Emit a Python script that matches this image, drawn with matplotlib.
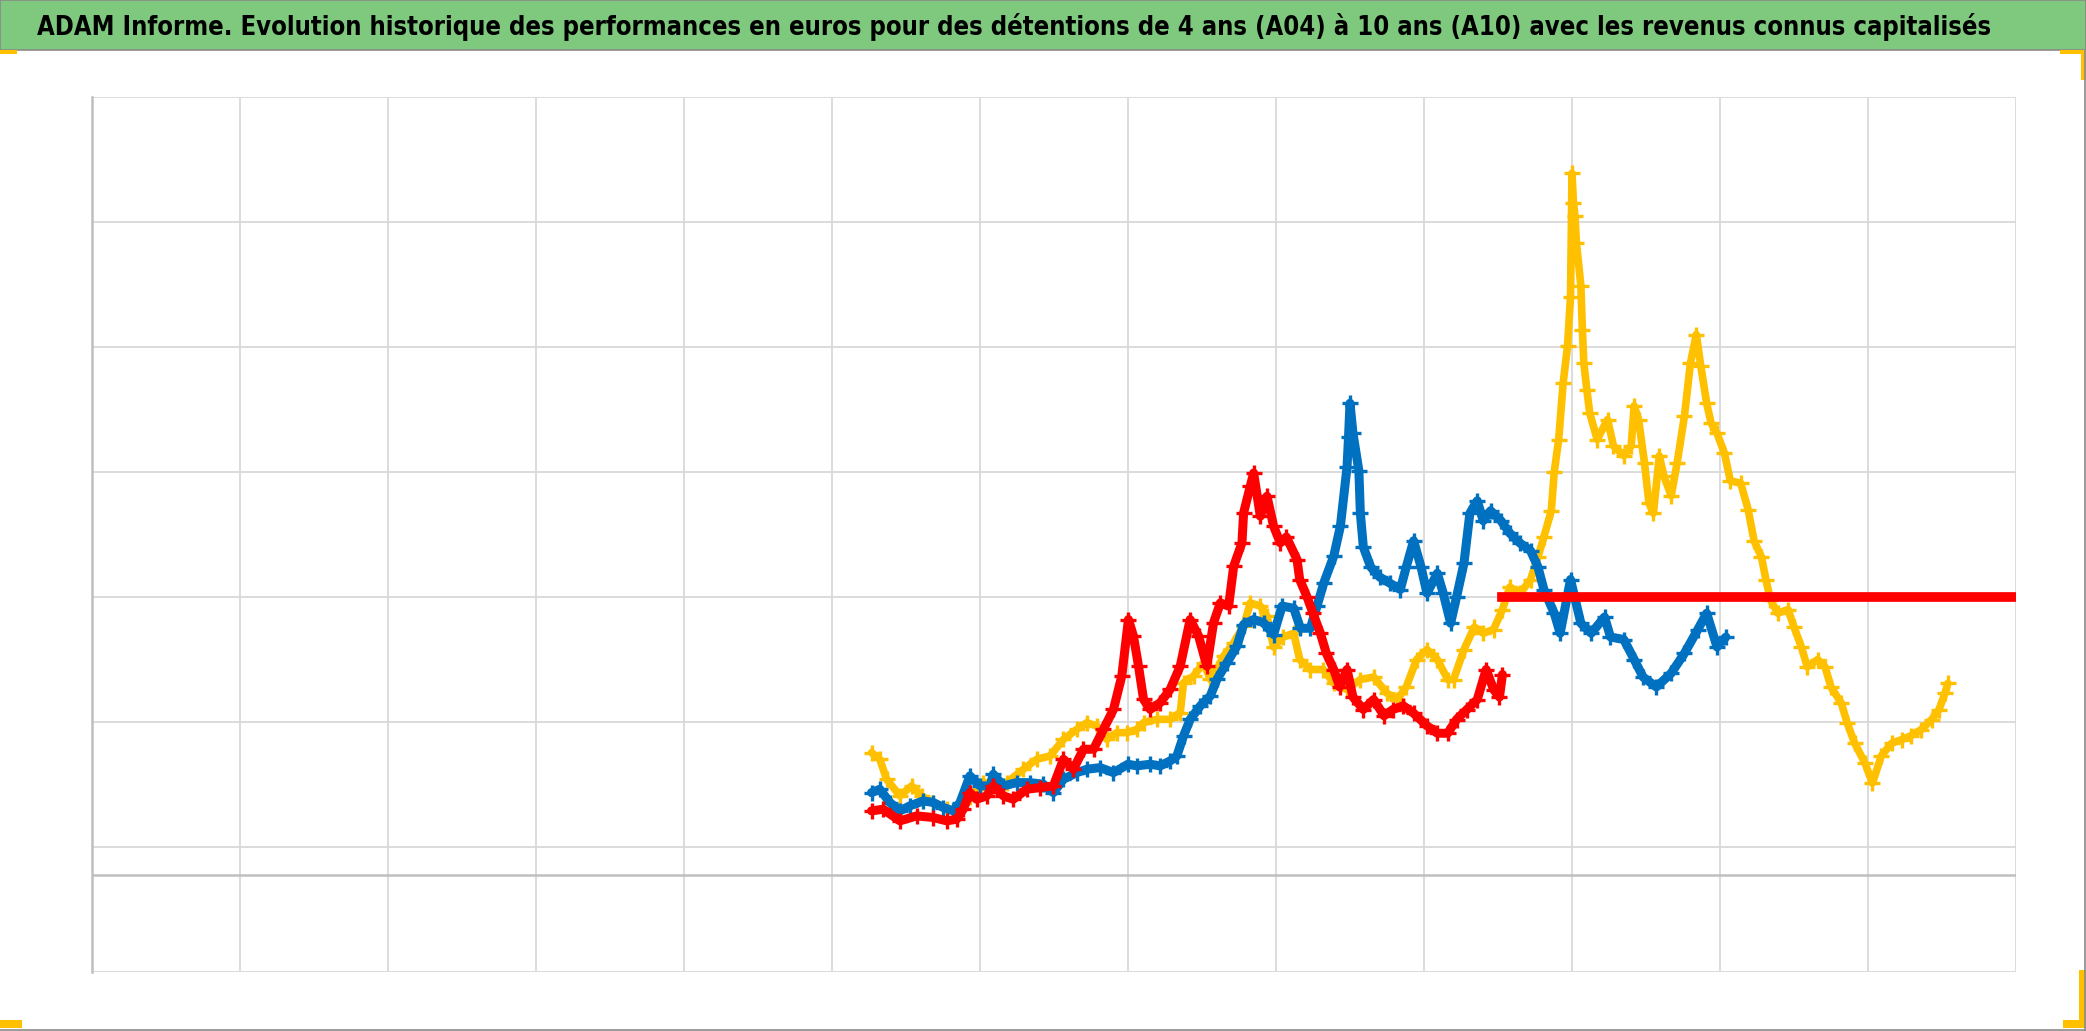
import numpy as np
import matplotlib
matplotlib.use("Agg")
import matplotlib.pyplot as plt
from matplotlib import font_manager
from matplotlib.patches import Rectangle
from matplotlib.lines import Line2D

# Data (x: date axis in grid steps, y: performance in grid steps)
title = ("ADAM Informe. Evolution historique des performances en euros pour des détentions "
         "de 4 ans (A04) à 10 ans (A10) avec les revenus connus capitalisés")

yellow_x = [5.267, 5.323, 5.369, 5.459, 5.538, 5.605, 5.684, 5.775, 5.842, 5.93,
            6.023, 6.180, 6.293, 6.383, 6.473, 6.564, 6.654, 6.722, 6.789, 6.857,
            6.924, 6.992, 7.060, 7.105, 7.195, 7.285, 7.353, 7.375, 7.443, 7.511,
            7.556, 7.601, 7.646, 7.714, 7.781, 7.826, 7.894, 7.939, 7.984, 8.05,
            8.12, 8.16, 8.23, 8.32, 8.39, 8.48, 8.57, 8.66, 8.75, 8.82,
            8.88, 8.95, 9.02, 9.09, 9.16, 9.20, 9.27, 9.34, 9.40, 9.47,
            9.53, 9.58, 9.65, 9.72, 9.77, 9.81, 9.86, 9.88, 9.91, 9.94,
            9.97, 9.99, 10.00, 10.01, 10.02, 10.03, 10.06, 10.07, 10.08, 10.10,
            10.12, 10.17, 10.24, 10.28, 10.35, 10.40, 10.42, 10.45, 10.49, 10.52,
            10.55, 10.59, 10.62, 10.67, 10.71, 10.76, 10.80, 10.84, 10.87, 10.91,
            10.94, 10.98, 11.03, 11.07, 11.14, 11.19, 11.23, 11.28, 11.31, 11.34,
            11.39, 11.46, 11.50, 11.55, 11.59, 11.66, 11.71, 11.75, 11.82, 11.86,
            11.91, 11.98, 12.03, 12.09, 12.16, 12.23, 12.29, 12.36, 12.43, 12.48,
            12.52, 12.54]
yellow_y = [1.755, 1.702, 1.542, 1.409, 1.489, 1.409, 1.356, 1.302, 1.289, 1.40,
            1.515, 1.515, 1.622, 1.702, 1.728, 1.861, 1.941, 1.995, 1.968, 1.861,
            1.915, 1.915, 1.941, 1.995, 2.021, 2.021, 2.075, 2.314, 2.368, 2.474,
            2.341, 2.421, 2.527, 2.634, 2.767, 2.953, 2.927, 2.847, 2.60, 2.68,
            2.71, 2.50, 2.42, 2.42, 2.31, 2.26, 2.34, 2.36, 2.23, 2.18,
            2.28, 2.50, 2.58, 2.50, 2.34, 2.34, 2.58, 2.76, 2.71, 2.74,
            2.90, 3.08, 3.03, 3.14, 3.32, 3.48, 3.69, 4.00, 4.26, 4.71,
            5.01, 5.40, 6.39, 6.15, 6.05, 5.83, 5.49, 5.14, 4.87, 4.66,
            4.47, 4.26, 4.42, 4.21, 4.13, 4.21, 4.53, 4.42, 4.07, 3.75,
            3.67, 4.13, 3.97, 3.81, 4.07, 4.45, 4.87, 5.10, 4.85, 4.55,
            4.39, 4.31, 4.15, 3.93, 3.91, 3.70, 3.45, 3.32, 3.14, 2.98,
            2.87, 2.90, 2.76, 2.60, 2.44, 2.50, 2.44, 2.28, 2.15, 1.99,
            1.83, 1.67, 1.51, 1.73, 1.83, 1.86, 1.89, 1.94, 2.02, 2.10,
            2.23, 2.31]

blue_x = [5.267, 5.323, 5.391, 5.459, 5.526, 5.617, 5.684, 5.752, 5.820, 5.865,
          5.932, 6.000, 6.068, 6.090, 6.158, 6.248, 6.338, 6.428, 6.496, 6.564,
          6.654, 6.722, 6.812, 6.902, 7.000, 7.060, 7.150, 7.218, 7.285, 7.330,
          7.375, 7.420, 7.488, 7.556, 7.601, 7.668, 7.736, 7.781, 7.849, 7.916,
          7.984, 8.041, 8.120, 8.165, 8.232, 8.277, 8.323, 8.390, 8.435, 8.480,
          8.49, 8.50, 8.52, 8.56, 8.57, 8.59, 8.64, 8.70, 8.77, 8.84,
          8.88, 8.93, 8.98, 9.02, 9.09, 9.13, 9.18, 9.22, 9.27, 9.31,
          9.36, 9.40, 9.45, 9.52, 9.58, 9.65, 9.72, 9.77, 9.81, 9.88,
          9.92, 9.99, 10.06, 10.13, 10.22, 10.26, 10.35, 10.42, 10.48, 10.57,
          10.67, 10.76, 10.85, 10.91, 10.98, 11.04]
blue_y = [1.435, 1.462, 1.356, 1.289, 1.329, 1.369, 1.356, 1.316, 1.289, 1.356,
          1.569, 1.489, 1.489, 1.582, 1.489, 1.515, 1.515, 1.502, 1.435, 1.542,
          1.595, 1.622, 1.635, 1.595, 1.662, 1.649, 1.662, 1.649, 1.689, 1.728,
          1.888, 2.021, 2.128, 2.208, 2.341, 2.474, 2.607, 2.780, 2.820, 2.794,
          2.700, 2.927, 2.910, 2.750, 2.750, 2.927, 3.113, 3.326, 3.566, 4.04,
          4.28, 4.55, 4.31, 4.01, 3.67, 3.40, 3.24, 3.16, 3.11, 3.06,
          3.24, 3.45, 3.24, 3.03, 3.19, 3.03, 2.79, 3.00, 3.27, 3.67,
          3.77, 3.61, 3.69, 3.61, 3.51, 3.43, 3.37, 3.24, 3.06, 2.87,
          2.71, 3.14, 2.79, 2.71, 2.84, 2.68, 2.66, 2.50, 2.36, 2.28,
          2.39, 2.55, 2.74, 2.87, 2.60, 2.68]

red_x = [5.267, 5.346, 5.459, 5.572, 5.684, 5.775, 5.842, 5.887, 5.932, 5.977,
         6.045, 6.090, 6.158, 6.225, 6.316, 6.406, 6.496, 6.564, 6.631, 6.699,
         6.767, 6.834, 6.902, 6.958, 7.003, 7.037, 7.071, 7.105, 7.150, 7.218,
         7.285, 7.353, 7.420, 7.477, 7.533, 7.578, 7.624, 7.680, 7.714, 7.770,
         7.781, 7.826, 7.849, 7.894, 7.939, 7.984, 8.029, 8.07, 8.142, 8.16,
         8.21, 8.25, 8.30, 8.34, 8.39, 8.43, 8.48, 8.52, 8.59, 8.66,
         8.73, 8.79, 8.86, 8.93, 9.02, 9.09, 9.16, 9.22, 9.29, 9.36,
         9.42, 9.47, 9.51, 9.53]
red_y = [1.289, 1.302, 1.209, 1.249, 1.236, 1.209, 1.222, 1.302, 1.435, 1.382,
         1.409, 1.489, 1.409, 1.382, 1.462, 1.475, 1.489, 1.702, 1.622, 1.782,
         1.782, 1.941, 2.101, 2.368, 2.820, 2.687, 2.447, 2.181, 2.101, 2.155,
         2.261, 2.447, 2.820, 2.687, 2.447, 2.794, 2.953, 2.927, 3.246, 3.433,
         3.672, 3.886, 3.992, 3.646, 3.806, 3.566, 3.433, 3.48, 3.30, 3.14,
         3.00, 2.87, 2.71, 2.55, 2.42, 2.28, 2.42, 2.20, 2.10, 2.18,
         2.05, 2.10, 2.13, 2.07, 1.97, 1.91, 1.91, 2.02, 2.10, 2.18,
         2.42, 2.26, 2.20, 2.38]

# flat part of the red series at the right
red_flat_x = [9.53, 13.0]
red_flat_y = [3.0, 3.0]

x_ticks = list(range(0, 14))
y_ticks = list(range(0, 8))
x_axis_cross = 0.777

# pick a condensed bold font if one is installed (Calibri-like title)
fm = font_manager.fontManager
title_font = None
for f in fm.ttflist:
    if f.stretch in ("condensed", "semi-condensed", "extra-condensed") or \
            "Narrow" in f.name or "Condensed" in f.name:
        if f.weight in ("bold", 700, "semibold", 600):
            title_font = f
            break
if title_font is not None:
    title_props = font_manager.FontProperties(fname=title_font.fname)
else:
    title_props = font_manager.FontProperties(family="Liberation Sans", weight="bold")

W, H = 2086, 1031
fig = plt.figure(figsize=(W / 100, H / 100), dpi=100)
fig.patch.set_facecolor("white")

# green title bar
bar_h = 50 / H
fig.patches.append(Rectangle((0, 1 - bar_h), 1, bar_h, transform=fig.transFigure,
                             facecolor="#7EC97E", edgecolor="#8A8A8A", lw=1.2, zorder=0))
t = fig.text(37 / W, 1 - 27 / H, title, ha="left", va="center",
             fontproperties=title_props, color="black")
t.set_fontsize(24)
fig.canvas.draw()
w = t.get_window_extent(fig.canvas.get_renderer()).width
t.set_fontsize(24 * 1962 / w)

# window border + selection handles
fig.lines.append(Line2D([2084.5 / W, 2084.5 / W], [0, 1 - bar_h], transform=fig.transFigure,
                        color="#8A8A8A", lw=1.2))
fig.lines.append(Line2D([0, 1], [1.5 / H, 1.5 / H], transform=fig.transFigure,
                        color="#8A8A8A", lw=1.2))
orange = "#FFC000"
for (x0, y0, w0, h0) in [(0, 50, 17, 4), (2060, 50, 26, 4), (2081, 50, 5, 30),
                         (0, 1020, 22, 8), (2063, 1020, 23, 8), (2079, 970, 7, 58)]:
    fig.patches.append(Rectangle((x0 / W, 1 - (y0 + h0) / H), w0 / W, h0 / H,
                                 transform=fig.transFigure, facecolor=orange,
                                 edgecolor="none"))

ax = fig.add_axes([92 / W, 59 / H, 1924 / W, 875 / H])
ax.set_xlim(0, 13)
ax.set_ylim(0, 7)
ax.set_xticks(x_ticks)
ax.set_yticks(y_ticks)
ax.tick_params(length=0, labelbottom=False, labelleft=False)
ax.grid(True, color="#D9D9D9", lw=1.3)
ax.set_axisbelow(True)
for s in ["top", "right", "bottom"]:
    ax.spines[s].set_visible(False)
ax.spines["left"].set_color("#BFBFBF")
ax.spines["left"].set_linewidth(1.8)
ax.axhline(x_axis_cross, color="#BFBFBF", lw=1.8, zorder=1)

style = dict(marker="+", ms=11, mew=2.4, solid_joinstyle="round",
             solid_capstyle="round")
ax.plot(yellow_x, yellow_y, color="#FFC000", lw=5.5, zorder=3, **style)
ax.plot(blue_x, blue_y, color="#0070C0", lw=6.5, zorder=4, **style)
ax.plot(red_x, red_y, color="#FF0000", lw=6.5, zorder=5, **style)
ax.plot(red_flat_x, red_flat_y, color="#FF0000", lw=7, zorder=5)

fig.savefig("out.png", dpi=100, facecolor="white")
